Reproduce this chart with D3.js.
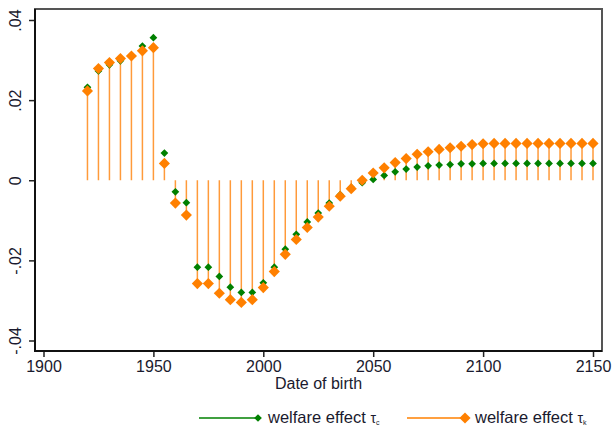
<!DOCTYPE html>
<html>
<head>
<meta charset="utf-8">
<script src="https://cdn.jsdelivr.net/npm/d3@7"></script>
<style>
  body { margin: 0; background: #fff; }
  text { font-family: "Liberation Sans", Arial, sans-serif; fill: #1a1a2e; }
</style>
</head>
<body>
<div class="chart"></div>
<script>
// data
var years = [1920, 1925, 1930, 1935, 1940, 1945, 1950, 1955, 1960, 1965,
  1970, 1975, 1980, 1985, 1990, 1995, 2000, 2005, 2010, 2015,
  2020, 2025, 2030, 2035, 2040, 2045, 2050, 2055, 2060, 2065,
  2070, 2075, 2080, 2085, 2090, 2095, 2100, 2105, 2110, 2115,
  2120, 2125, 2130, 2135, 2140, 2145, 2150];

var tauC = [0.0232, 0.0273, 0.0288, 0.0298, 0.0310, 0.0335, 0.0356, 0.0068, -0.0029, -0.0056,
  -0.0217, -0.0217, -0.0240, -0.0267, -0.0280, -0.0280, -0.0256, -0.0217, -0.0172, -0.0135,
  -0.0104, -0.0082, -0.0057, -0.0036, -0.0018, -0.0006, 0.0002, 0.0012, 0.0021, 0.0028,
  0.0033, 0.0036, 0.0038, 0.0039, 0.0041, 0.0041, 0.0042, 0.0042, 0.0042, 0.0042,
  0.0042, 0.0042, 0.0042, 0.0042, 0.0042, 0.0042, 0.0042];

var tauK = [0.0223, 0.0279, 0.0294, 0.0304, 0.0310, 0.0323, 0.0331, 0.0042, -0.0057, -0.0087,
  -0.0258, -0.0258, -0.0282, -0.0298, -0.0305, -0.0298, -0.0268, -0.0228, -0.0185, -0.0148,
  -0.0118, -0.0092, -0.0065, -0.0040, -0.0021, 0.0000, 0.0018, 0.0031, 0.0044, 0.0054,
  0.0065, 0.0071, 0.0077, 0.0081, 0.0085, 0.0089, 0.0091, 0.0092, 0.0092, 0.0092,
  0.0092, 0.0092, 0.0092, 0.0092, 0.0092, 0.0092, 0.0092];

var xTicks = [1900, 1950, 2000, 2050, 2100, 2150];
var yTicks = [-0.04, -0.02, 0, 0.02, 0.04];
var yTickLabels = ["-.04", "-.02", "0", ".02", ".04"];

var svgWidth = 613;
var svgHeight = 425;

// plot region box
var box = { left: 35, right: 602, top: 9, bottom: 351 };

var green = "#008000";
var orange = "#ff8000";
var spikeColor = "#ff9a3a";

var svg = d3.select(".chart")
  .append("svg")
  .attr("width", svgWidth)
  .attr("height", svgHeight);

var xScale = d3.scaleLinear()
  .domain([1900, 2150])
  .range([43.5, 593]);

var yScale = d3.scaleLinear()
  .domain([-0.04, 0.04])
  .range([340.5, 20]);

var points = years.map((y, i) => ({ year: y, c: tauC[i], k: tauK[i] }));

// frame
svg.append("rect")
  .attr("x", box.left)
  .attr("y", box.top)
  .attr("width", box.right - box.left)
  .attr("height", box.bottom - box.top)
  .attr("fill", "none")
  .attr("stroke", "#555")
  .attr("stroke-width", 2);

// axes
var yAxis = d3.axisLeft(yScale)
  .tickValues(yTicks)
  .tickSize(6)
  .tickFormat((d, i) => yTickLabels[i]);

var xAxis = d3.axisBottom(xScale)
  .tickValues(xTicks)
  .tickSize(6)
  .tickFormat(d3.format("d"));

var yG = svg.append("g")
  .attr("transform", `translate(${box.left}, 0)`)
  .call(yAxis);
yG.select(".domain").remove();
yG.selectAll(".tick line").attr("stroke", "#222").attr("stroke-width", 1.5);
yG.selectAll(".tick text")
  .attr("x", 0)
  .attr("y", -14)
  .attr("dy", 0)
  .attr("transform", "rotate(-90)")
  .attr("text-anchor", "middle")
  .style("font-size", "16px")
  .style("font-family", "Liberation Sans, Arial, sans-serif")
  .attr("fill", "#1a1a2e");

var xG = svg.append("g")
  .attr("transform", `translate(0, ${box.bottom})`)
  .call(xAxis);
xG.select(".domain").remove();
xG.selectAll(".tick line").attr("stroke", "#222").attr("stroke-width", 1.5);
xG.selectAll(".tick text")
  .attr("y", 10)
  .attr("dy", "0.71em")
  .style("font-size", "16px")
  .style("font-family", "Liberation Sans, Arial, sans-serif")
  .attr("fill", "#1a1a2e");

// axis lines drawn over frame
svg.append("line")
  .attr("x1", box.left).attr("x2", box.left)
  .attr("y1", box.top).attr("y2", box.bottom + 1)
  .attr("stroke", "#111").attr("stroke-width", 2);
svg.append("line")
  .attr("x1", box.left - 1).attr("x2", box.right)
  .attr("y1", box.bottom).attr("y2", box.bottom)
  .attr("stroke", "#111").attr("stroke-width", 2);

// x label
svg.append("text")
  .attr("x", (box.left + box.right) / 2)
  .attr("y", 389)
  .attr("text-anchor", "middle")
  .style("font-size", "16px")
  .text("Date of birth");

// spikes for tau_k
svg.append("g").selectAll("line")
  .data(points)
  .enter()
  .append("line")
  .attr("x1", d => xScale(d.year))
  .attr("x2", d => xScale(d.year))
  .attr("y1", yScale(0))
  .attr("y2", d => yScale(d.k))
  .attr("stroke", spikeColor)
  .attr("stroke-width", 1.5);

var diamond = function(size) {
  return d3.symbol().type(d3.symbolSquare).size(size)();
};

// tau_c markers
svg.append("g").selectAll("path")
  .data(points)
  .enter()
  .append("path")
  .attr("d", diamond(30))
  .attr("transform", d => `translate(${xScale(d.year)}, ${yScale(d.c)}) rotate(45)`)
  .attr("fill", green);

// tau_k markers
svg.append("g").selectAll("path")
  .data(points)
  .enter()
  .append("path")
  .attr("d", diamond(62))
  .attr("transform", d => `translate(${xScale(d.year)}, ${yScale(d.k)}) rotate(45)`)
  .attr("fill", orange);

// legend
var legend = [
  { x1: 199, x2: 258, color: green, size: 30, sub: "c" },
  { x1: 407, x2: 465, color: orange, size: 62, sub: "k" }
];
var legendY = 418;

var lg = svg.append("g").selectAll("g")
  .data(legend)
  .enter()
  .append("g");

lg.append("line")
  .attr("x1", d => d.x1)
  .attr("x2", d => d.x2)
  .attr("y1", legendY)
  .attr("y2", legendY)
  .attr("stroke", d => d.color)
  .attr("stroke-width", 1.5);

lg.append("path")
  .attr("d", d => diamond(d.size))
  .attr("transform", d => `translate(${d.x2}, ${legendY}) rotate(45)`)
  .attr("fill", d => d.color);

var lt = lg.append("text")
  .attr("x", d => d.x2 + 10)
  .attr("y", legendY + 5)
  .style("font-size", "16.5px");
lt.append("tspan").text("welfare effect ");
lt.append("tspan").text("τ").style("font-size", "14px");
lt.append("tspan").text(d => d.sub).style("font-size", "7px").attr("dy", 2);
</script>
</body>
</html>
